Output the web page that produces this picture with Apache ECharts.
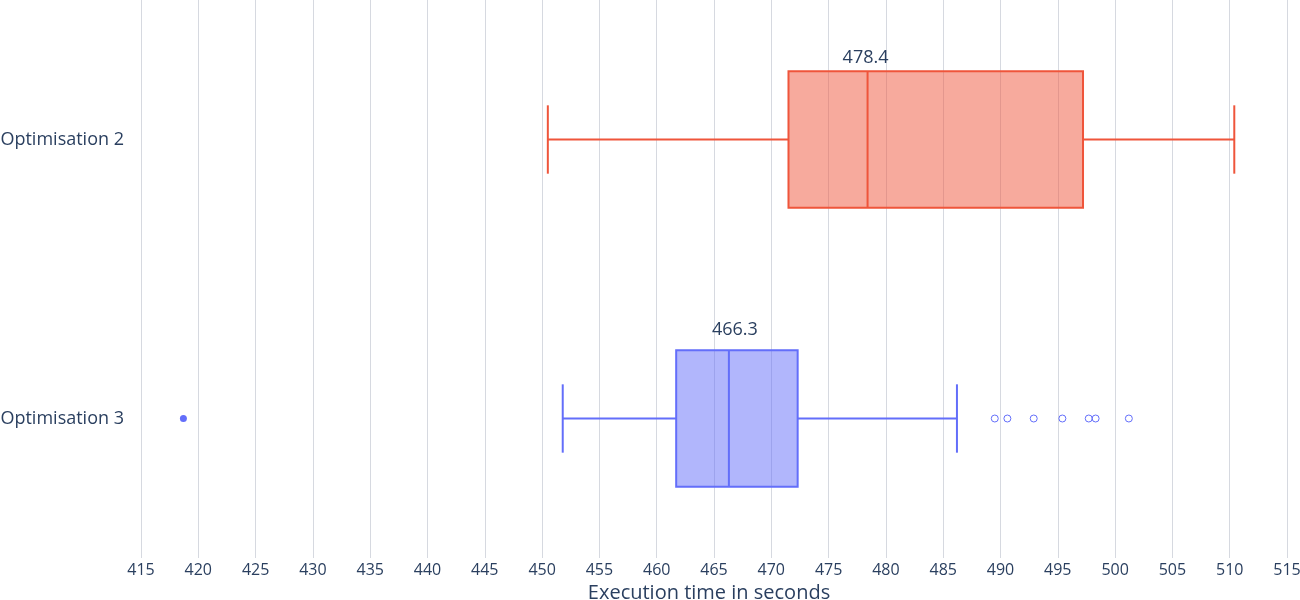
<!DOCTYPE html>
<html>
<head>
    <meta charset="utf-8">
    <title>ECharts</title>
    <script src="https://cdn.jsdelivr.net/npm/echarts@6/dist/echarts.min.js"></script>
    <style>
        *{margin: 0;padding: 0;}
        body{background: #fff;}
    </style>
</head>
<body>
    <div id="main" style="width: 1300px;height:600px;"></div>
    <script type="text/javascript">
        // data
        var categories = ['Optimisation 3', 'Optimisation 2'];
        // [lower whisker, q1, median, q3, upper whisker]
        var opt2Stats = [450.5, 471.5, 478.4, 497.2, 510.4];
        var opt3Stats = [451.8, 461.7, 466.3, 472.3, 486.2];
        var opt3Suspected = [489.5, 490.6, 492.9, 495.4, 497.7, 498.3, 501.2];
        var opt3Outliers = [418.7];

        var textColor = '#2a3f5f';
        var font = 'Open Sans';

        var myChart = echarts.init(document.getElementById('main'));

        function boxItem(params, api) {
            var cat = api.value(0);
            var low = api.coord([api.value(1), cat]);
            var q1 = api.coord([api.value(2), cat]);
            var med = api.coord([api.value(3), cat]);
            var q3 = api.coord([api.value(4), cat]);
            var high = api.coord([api.value(5), cat]);
            var band = api.size([0, 1])[1];
            var half = band * 0.245;
            var cap = half / 2;
            var y = med[1];
            var first = params.seriesIndex === 0;
            var line = first ? '#EF553B' : '#636EFA';
            var fill = first ? 'rgba(239,85,59,0.5)' : 'rgba(99,110,250,0.5)';
            // the labels in the picture don't sit at the same offset
            var dx = first ? -2 : 6;
            var dy = first ? 4 : 11;
            var ls = {stroke: line, lineWidth: 2, fill: null};
            return {
                type: 'group',
                children: [
                    {type: 'rect', shape: {x: q1[0], y: y - half, width: q3[0] - q1[0], height: half * 2},
                        style: {fill: fill, stroke: line, lineWidth: 2}},
                    {type: 'line', shape: {x1: med[0], y1: y - half, x2: med[0], y2: y + half}, style: ls},
                    {type: 'line', shape: {x1: low[0], y1: y, x2: q1[0], y2: y}, style: ls},
                    {type: 'line', shape: {x1: q3[0], y1: y, x2: high[0], y2: y}, style: ls},
                    {type: 'line', shape: {x1: low[0], y1: y - cap, x2: low[0], y2: y + cap}, style: ls},
                    {type: 'line', shape: {x1: high[0], y1: y - cap, x2: high[0], y2: y + cap}, style: ls},
                    {type: 'text', style: {text: api.value(3).toFixed(1), x: med[0] + dx, y: y - half - dy,
                        align: 'center', verticalAlign: 'bottom', fill: textColor, fontSize: 18, fontFamily: font}}
                ]
            };
        }

        option = {
            animation: false,
            grid: {left: 141, right: 13, top: 0, bottom: 42, outerBoundsMode: 'none'},
            xAxis: {
                type: 'value',
                min: 415,
                max: 515,
                interval: 5,
                name: 'Execution time in seconds',
                nameLocation: 'middle',
                nameGap: 17,
                nameTextStyle: {color: textColor, fontSize: 20, fontFamily: font, padding: [0, 10, 0, 0]},
                axisLine: {show: false},
                axisTick: {show: false},
                axisLabel: {color: textColor, fontSize: 16, fontFamily: font, margin: 4},
                splitLine: {show: true, lineStyle: {color: '#d6d9e0', width: 1}}
            },
            yAxis: {
                type: 'category',
                data: categories,
                axisLine: {show: false},
                axisTick: {show: false},
                splitLine: {show: false},
                axisLabel: {color: textColor, fontSize: 18, fontFamily: font, margin: 17}
            },
            series: [
                {
                    name: 'Optimisation 2',
                    type: 'custom',
                    renderItem: boxItem,
                    encode: {x: [1, 2, 3, 4, 5], y: 0},
                    data: [[1].concat(opt2Stats)],
                    z: 2
                },
                {
                    name: 'Optimisation 3',
                    type: 'custom',
                    renderItem: boxItem,
                    encode: {x: [1, 2, 3, 4, 5], y: 0},
                    data: [[0].concat(opt3Stats)],
                    z: 2
                },
                {
                    type: 'scatter',
                    symbolSize: 7,
                    itemStyle: {color: 'rgba(0,0,0,0)', borderColor: '#636EFA', borderWidth: 1, opacity: 1},
                    data: opt3Suspected.map(function (v) { return [v, categories[0]]; }),
                    z: 3
                },
                {
                    type: 'scatter',
                    symbolSize: 7,
                    itemStyle: {color: '#636EFA', opacity: 1},
                    data: opt3Outliers.map(function (v) { return [v, categories[0]]; }),
                    z: 3
                }
            ]
        };

        myChart.setOption(option);
    </script>
</body>
</html>
